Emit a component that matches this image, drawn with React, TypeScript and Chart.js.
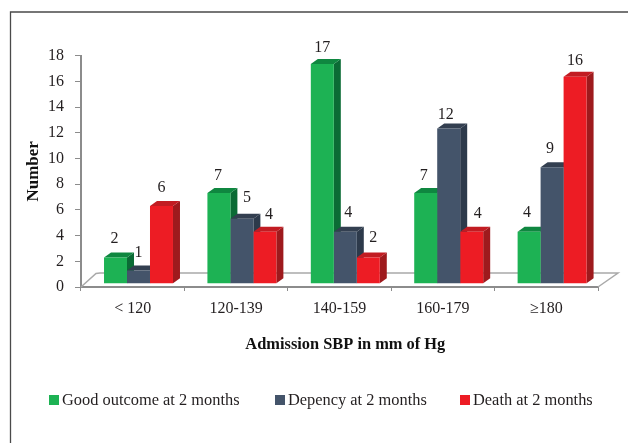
import React, { useEffect, useRef } from "react";
import { Chart, registerables } from "chart.js";

Chart.register(...registerables);

const categories = ["< 120", "120-139", "140-159", "160-179", "≥180"];
const goodOutcome = [2, 7, 17, 7, 4];
const dependency = [1, 5, 4, 12, 9];
const death = [6, 4, 2, 4, 16];
const yTickMax = 18;

const FONT = '"Liberation Serif", serif';
const GREEN = { front: "#1db254", top: "#0f8740", side: "#0b6b35" };
const NAVY = { front: "#44546a", top: "#333f50", side: "#2d3a4b" };
const RED = { front: "#ed1c24", top: "#c21c22", side: "#9e1a1d" };
const PALETTE = [GREEN, NAVY, RED];
const DX = 7;
const DY = 5;
const LEGEND_X = [49, 275, 460];

// dataset-category: small hand placements of value labels, as in the reference
const LABEL_NUDGE: Record<string, [number, number]> = {
  "0-0": [-1, -1],
  "0-1": [-1, 1],
  "1-1": [5, -3],
  "2-1": [4, 1],
  "0-2": [0, 2],
  "1-2": [3, -1],
  "2-2": [5, -2],
  "0-3": [-2, 1],
  "1-3": [-3, 4],
  "2-3": [6, 0],
  "0-4": [-2, -1],
  "1-4": [-2, 0],
  "2-4": [0, 2],
};

const scene = {
  id: "scene",
  beforeDraw(chart: any) {
    const { ctx, width, height } = chart;
    ctx.save();
    ctx.fillStyle = "#fff";
    ctx.fillRect(0, 0, width, height);
    ctx.strokeStyle = "#4a4a4a";
    ctx.lineWidth = 1.3;
    ctx.beginPath();
    ctx.moveTo(width, 12);
    ctx.lineTo(10.5, 12);
    ctx.lineTo(10.5, height);
    ctx.stroke();
    ctx.restore();
  },
  afterLayout(chart: any) {
    const s = chart.scales.xBars;
    s.left += 5.8;
    s.right += 5.8;
    s.configure();
  },
  beforeDatasetsDraw(chart: any) {
    const { ctx, chartArea: a } = chart;
    // floor
    ctx.save();
    ctx.strokeStyle = "#a9a9a9";
    ctx.lineWidth = 1.5;
    ctx.beginPath();
    ctx.moveTo(a.left, a.bottom);
    ctx.lineTo(a.left + 15, a.bottom - 13.5);
    ctx.lineTo(a.left + 19, a.bottom - 14);
    ctx.lineTo(a.right + 20, a.bottom - 14);
    ctx.lineTo(a.right, a.bottom);
    ctx.stroke();
    // depth faces of the bars
    chart.data.datasets.forEach((_: any, di: number) => {
      chart.getDatasetMeta(di).data.forEach((bar: any) => {
        const { x, y, base, width: w } = bar.getProps(["x", "y", "base", "width"], true);
        const l = x - w / 2;
        const r = x + w / 2;
        ctx.fillStyle = PALETTE[di].side;
        ctx.beginPath();
        ctx.moveTo(r, y);
        ctx.lineTo(r + DX, y - DY);
        ctx.lineTo(r + DX, base - DY);
        ctx.lineTo(r, base);
        ctx.closePath();
        ctx.fill();
        ctx.fillStyle = PALETTE[di].top;
        ctx.beginPath();
        ctx.moveTo(l, y);
        ctx.lineTo(l + DX, y - DY);
        ctx.lineTo(r + DX, y - DY);
        ctx.lineTo(r, y);
        ctx.closePath();
        ctx.fill();
      });
    });
    ctx.restore();
  },
  afterDraw(chart: any) {
    const { ctx } = chart;
    ctx.save();
    ctx.fillStyle = "#231f20";
    ctx.font = `16px ${FONT}`;
    ctx.textAlign = "center";
    ctx.textBaseline = "middle";
    chart.data.datasets.forEach((ds: any, di: number) => {
      chart.getDatasetMeta(di).data.forEach((bar: any, i: number) => {
        const { x, y } = bar.getProps(["x", "y"], true);
        const [nx, ny] = LABEL_NUDGE[`${di}-${i}`] || [0, 0];
        ctx.fillText(String(ds.data[i]), x + nx, y - 18 + ny);
      });
    });
    // legend
    ctx.textAlign = "left";
    ctx.font = `16.4px ${FONT}`;
    chart.data.datasets.forEach((ds: any, di: number) => {
      const bx = LEGEND_X[di];
      ctx.fillStyle = ds.backgroundColor;
      ctx.fillRect(bx, 395, 10, 10);
      ctx.fillStyle = "#231f20";
      ctx.fillText(ds.label, bx + 13, 400.5);
    });
    ctx.restore();
  },
};

export default function App() {
  const ref = useRef<HTMLCanvasElement | null>(null);
  useEffect(() => {
    const tickFont = { family: FONT, size: 16 };
    const axisGrey = "#8c8c8c";
    const mk = (label: string, data: number[], c: { front: string }) => ({
      label,
      data,
      backgroundColor: c.front,
      xAxisID: "xBars",
      yAxisID: "yBars",
      categoryPercentage: 0.667,
      barPercentage: 1,
    });
    const chart = new Chart(ref.current as HTMLCanvasElement, {
      type: "bar",
      data: {
        labels: categories,
        datasets: [
          mk("Good outcome at 2 months", goodOutcome, GREEN),
          mk("Depency at 2 months", dependency, NAVY),
          mk("Death at 2 months", death, RED),
        ],
      },
      plugins: [scene],
      options: {
        responsive: false,
        animation: false,
        layout: { padding: { top: 55.7, right: 30, bottom: 88, left: 0 } },
        plugins: { legend: { display: false }, tooltip: { enabled: false } },
        scales: {
          y: {
            min: 0,
            max: yTickMax,
            position: "left",
            afterFit: (s: any) => { s.width = 81; },
            ticks: { stepSize: 2, font: tickFont, color: "#231f20", padding: 11 },
            grid: { drawOnChartArea: false, tickLength: 6, color: axisGrey },
            border: { color: axisGrey, width: 2 },
            title: {
              display: true,
              text: "Number",
              font: { family: FONT, size: 17, weight: "bold" },
              color: "#111",
              padding: { top: 23, bottom: 0 },
            },
          },
          yBars: { display: false, min: -0.287, max: 17.64 },
          x: {
            position: "bottom",
            weight: 0,
            afterFit: (s: any) => { s.height = 34; },
            ticks: { font: tickFont, color: "#231f20", padding: 8, maxRotation: 0 },
            grid: { drawOnChartArea: false, tickLength: 4, color: axisGrey, offset: true },
            border: { color: axisGrey, width: 2 },
          },
          xBars: {
            type: "category",
            position: "bottom",
            weight: 1,
            afterFit: (s: any) => { s.height = 34; },
            ticks: { display: false },
            grid: { display: false },
            border: { display: false },
            title: {
              display: true,
              text: "Admission SBP in mm of Hg",
              font: { family: FONT, size: 16.4, weight: "bold" },
              color: "#111",
              padding: { top: 5, bottom: 0 },
            },
          },
        },
      } as any,
    });
    return () => chart.destroy();
  }, []);
  return (
    <div style={{ position: "absolute", left: 0, top: 0, width: 628, height: 443 }}>
      <canvas ref={ref} width={628} height={443} style={{ display: "block" }} />
    </div>
  );
}
